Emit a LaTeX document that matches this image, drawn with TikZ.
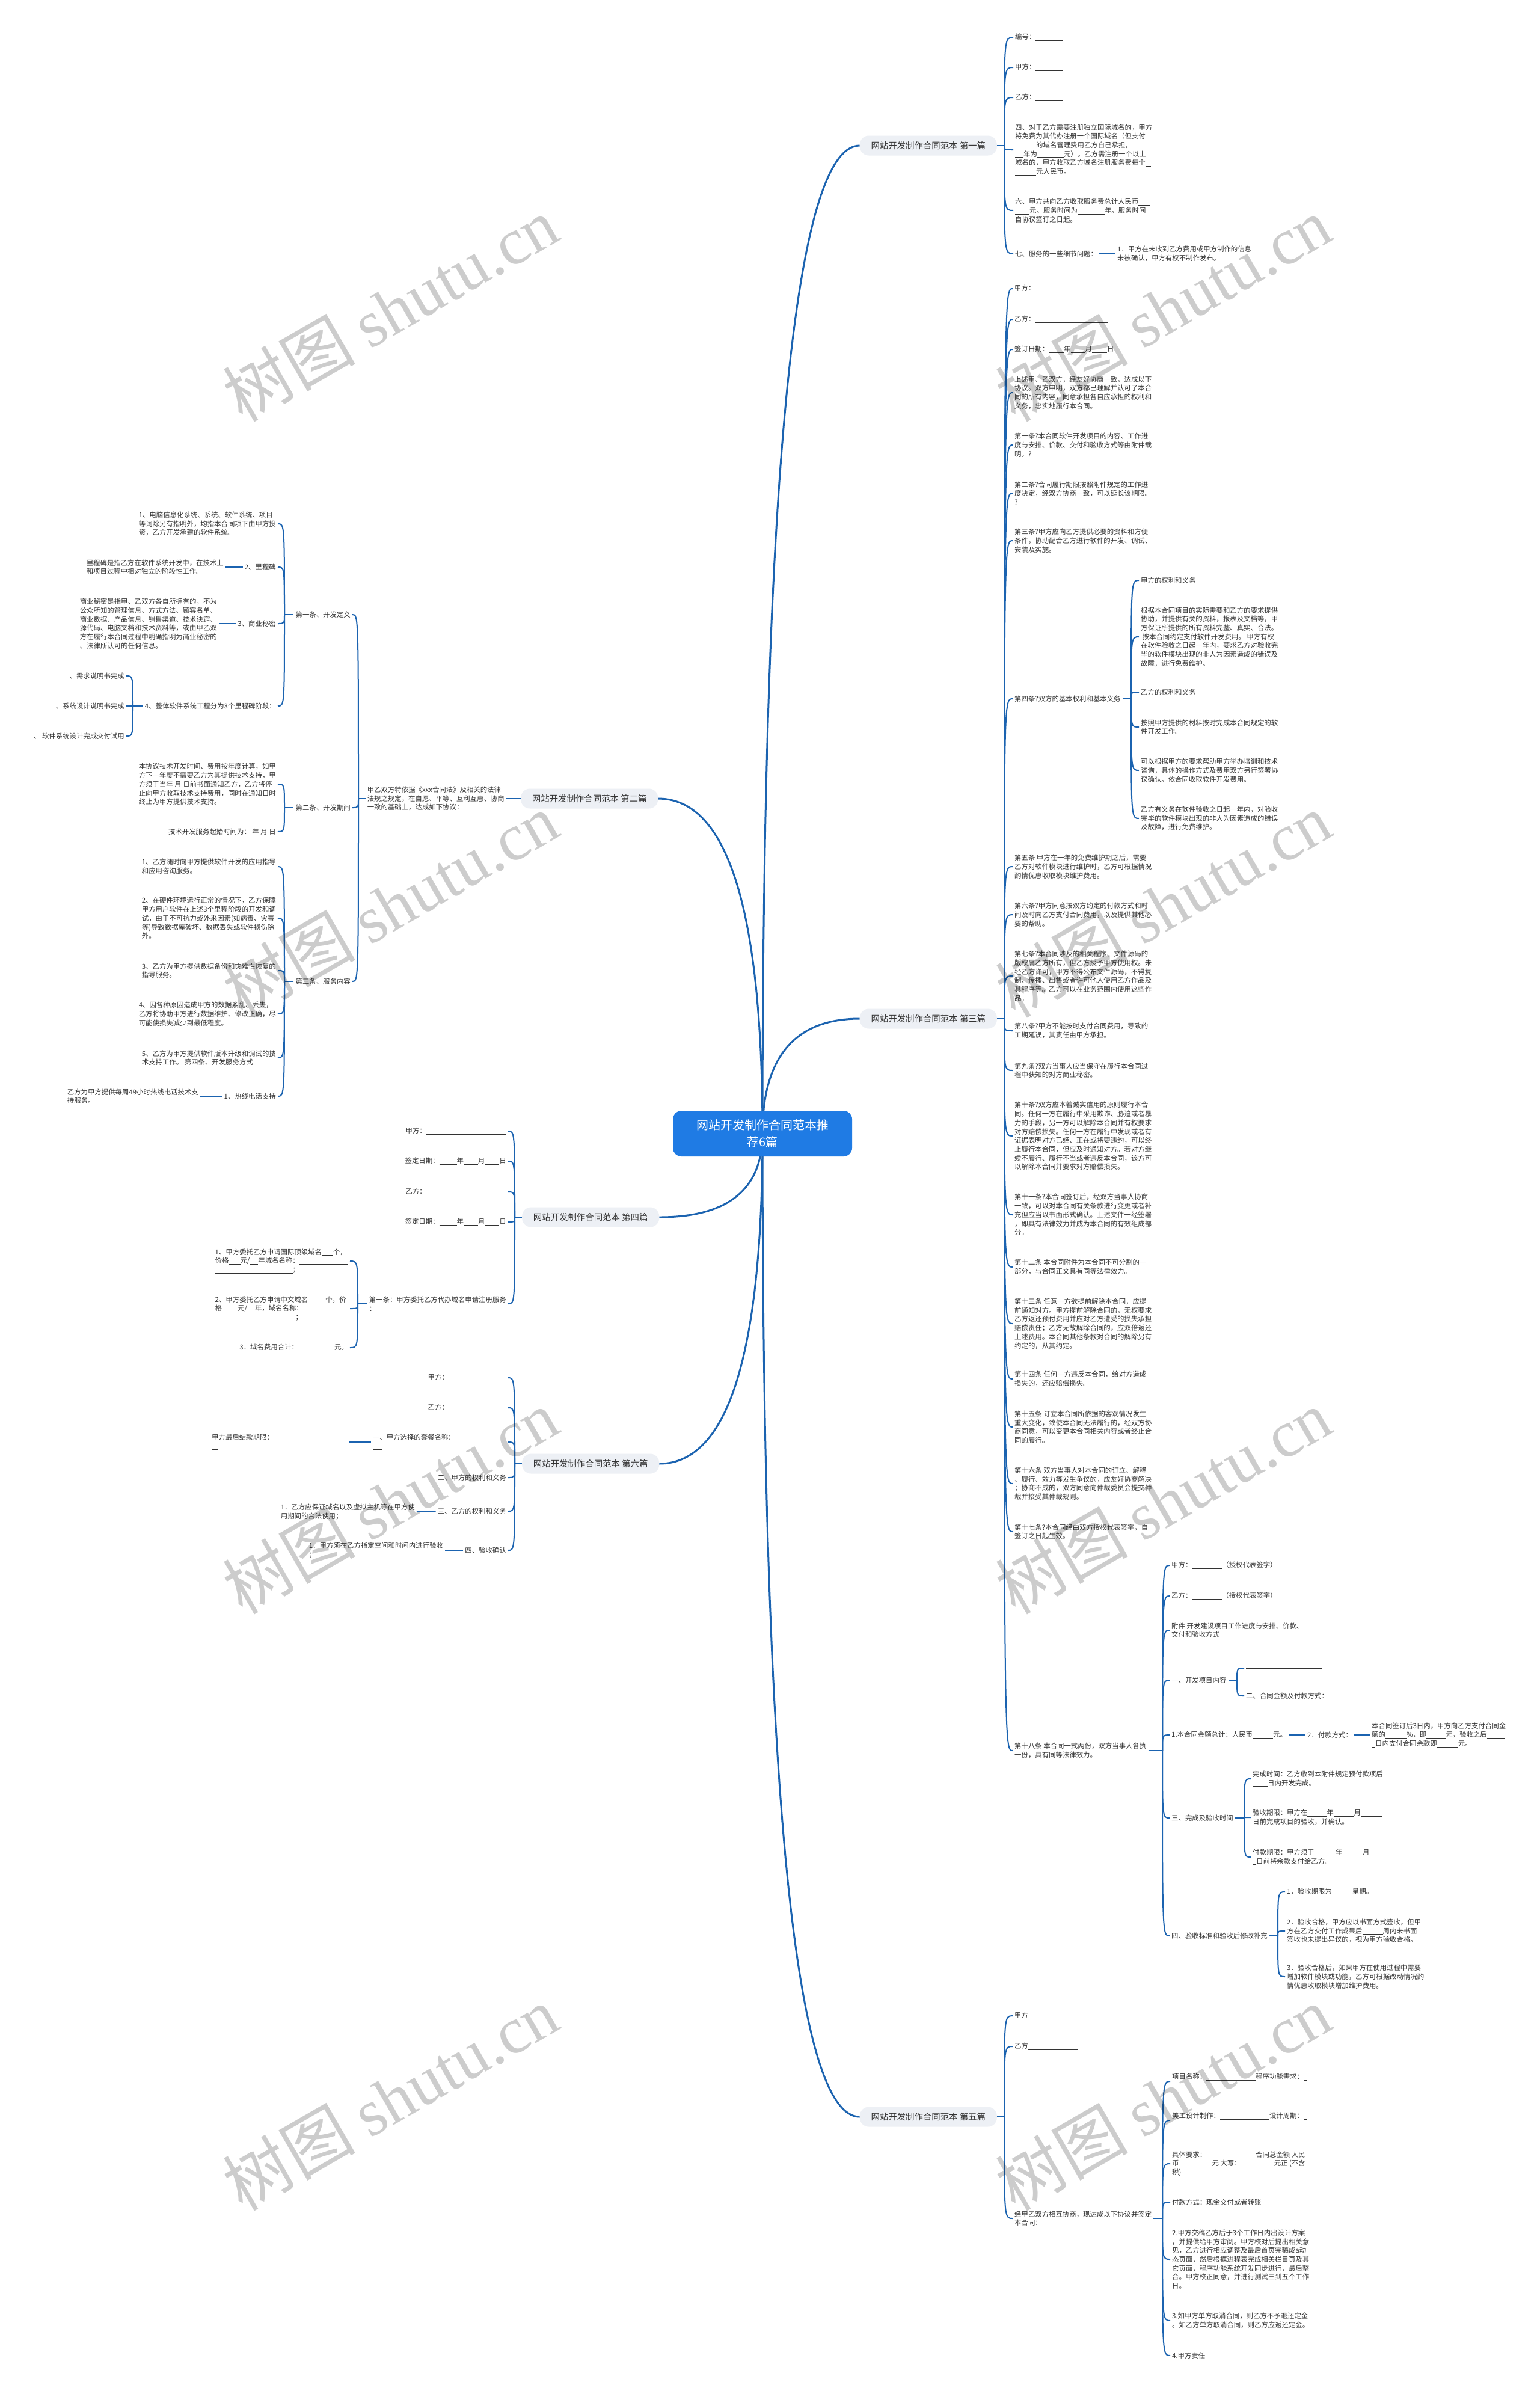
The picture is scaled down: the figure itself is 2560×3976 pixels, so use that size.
\documentclass[tikz,border=0pt]{standalone}
\usepackage{fontspec}
\setmainfont{Noto Sans CJK SC}
\newfontfamily\wmfont{Liberation Serif}
\usetikzlibrary{calc}
\definecolor{lnc}{HTML}{1B63B0}
\definecolor{txt}{HTML}{333333}
\definecolor{lblfill}{HTML}{EDF0F5}
\definecolor{ctrfill}{HTML}{1F7BE4}
\pgfdeclarelayer{bgl}
\pgfsetlayers{bgl,main}
\newcommand{\ubl}[1]{\rule[-2pt]{#1pt}{0.8pt}}
\newcommand{\lnk}[2]{\draw[conn] let \p1=(#1), \p2=(#2) in (\p1) .. controls (\x1,\y2) and (\x1,\y2) .. (\p2);}
\newcommand{\mlnk}[2]{\draw[mainconn] let \p1=(#1), \p2=(#2) in (\p1) .. controls (\x1,{\y1+0.6667*((\y2)-(\y1))}) and ({\x1+0.3333*((\x2)-(\x1))},\y2) .. (\p2);}
\tikzset{
  leaf/.style={font=\fontsize{11.4}{14.7}\selectfont, text=txt, align=left, inner xsep=3pt, inner ysep=1pt},
  lbl/.style={fill=lblfill, rounded corners=15pt, minimum width=228pt, minimum height=33pt, font=\fontsize{14.4}{17}\selectfont, text=txt, inner sep=0pt},
  ctr/.style={fill=ctrfill, rounded corners=14pt, minimum width=298pt, minimum height=76pt, font=\fontsize{20}{28}\selectfont, text=white, align=center, inner sep=0pt},
  conn/.style={draw=lnc, line width=2pt},
  mainconn/.style={draw=lnc, line width=3pt},
  wm/.style={font=\fontsize{110}{110}\selectfont, text=black, opacity=0.2, inner sep=0pt}
}
\begin{document}
\begin{tikzpicture}[x=1pt,y=-1pt]
\begin{pgfonlayer}{bgl}
\fill[white] (0,0) rectangle (2560,3976);
\end{pgfonlayer}
\useasboundingbox (0,0) rectangle (2560,3976);

% center and labels
\node[ctr] (C) at (1268,1885) {网站开发制作合同范本推\\荐6篇};
\node[lbl, anchor=east] (L1) at (1658,242) {网站开发制作合同范本 第一篇};
\node[lbl, anchor=east] (L3) at (1658,1694) {网站开发制作合同范本 第三篇};
\node[lbl, anchor=east] (L5) at (1658,3520) {网站开发制作合同范本 第五篇};
\node[lbl, anchor=west] (L2) at (866,1328) {网站开发制作合同范本 第二篇};
\node[lbl, anchor=west] (L4) at (868,2024) {网站开发制作合同范本 第四篇};
\node[lbl, anchor=west] (L6) at (868,2434) {网站开发制作合同范本 第六篇};

% ---------- branch 1
\coordinate (h1) at (1670,242);
\node[leaf,anchor=west] (a1) at (1685,62) {编号：\ubl{45}};
\node[leaf,anchor=west] (a2) at (1685,112) {甲方：\ubl{45}};
\node[leaf,anchor=west] (a3) at (1685,162) {乙方：\ubl{45}};
\node[leaf,anchor=west] (a4) at (1685,249) {四、对于乙方需要注册独立国际域名的，甲方\\将免费为其代办注册一个国际域名（但支付\ubl{8}\\\ubl{35}的域名管理费用乙方自己承担，\ubl{29}\\\ubl{14}年为\ubl{44}元）。乙方需注册一个以上\\域名的，甲方收取乙方域名注册服务费每个\ubl{9}\\\ubl{35}元人民币。};
\node[leaf,anchor=west] (a5) at (1685,350) {六、甲方共向乙方收取服务费总计人民币\ubl{20}\\\ubl{24}元。服务时间为\ubl{45}年。服务时间\\自协议签订之日起。};
\node[leaf,anchor=west] (a6) at (1685,422) {七、服务的一些细节问题：};
\node[leaf,anchor=west] (a7) at (1855,422) {1．甲方在未收到乙方费用或甲方制作的信息\\未被确认，甲方有权不制作发布。};

% ---------- branch 3
\coordinate (h3) at (1670,1694);
\node[leaf,anchor=west] (b1) at (1684,480) {甲方：\ubl{122}};
\node[leaf,anchor=west] (b2) at (1684,531) {乙方：\ubl{122}};
\node[leaf,anchor=west] (b3) at (1684,581) {签订日期：\ubl{25}年\ubl{24}月\ubl{25}日};
\node[leaf,anchor=west] (b4) at (1684,653) {上述甲、乙双方，经友好协商一致，达成以下\\协议。双方申明，双方都已理解并认可了本合\\同的所有内容，同意承担各自应承担的权利和\\义务，忠实地履行本合同。};
\node[leaf,anchor=west] (b5) at (1684,740) {第一条?本合同软件开发项目的内容、工作进\\度与安排、价款、交付和验收方式等由附件载\\明。?};
\node[leaf,anchor=west] (b6) at (1684,820) {第二条?合同履行期限按照附件规定的工作进\\度决定，经双方协商一致，可以延长该期限。\\?};
\node[leaf,anchor=west] (b7) at (1684,899) {第三条?甲方应向乙方提供必要的资料和方便\\条件，协助配合乙方进行软件的开发、调试、\\安装及实施。};
\node[leaf,anchor=west] (b8) at (1684,1162) {第四条?双方的基本权利和基本义务};
\node[leaf,anchor=west] (b9) at (1684,1441) {第五条 甲方在一年的免费维护期之后，需要\\乙方对软件模块进行维护时，乙方可根据情况\\酌情优惠收取模块维护费用。};
\node[leaf,anchor=west] (b10) at (1684,1521) {第六条?甲方同意按双方约定的付款方式和时\\间及时向乙方支付合同费用，以及提供其他必\\要的帮助。};
\node[leaf,anchor=west] (b11) at (1684,1623) {第七条?本合同涉及的相关程序、文件源码的\\版权属乙方所有，但乙方授予甲方使用权。未\\经乙方许可，甲方不得公布文件源码，不得复\\制、传播、出售或者许可他人使用乙方作品及\\其程序等。乙方可以在业务范围内使用这些作\\品。};
\node[leaf,anchor=west] (b12) at (1684,1714) {第八条?甲方不能按时支付合同费用，导致的\\工期延误，其责任由甲方承担。};
\node[leaf,anchor=west] (b13) at (1684,1780) {第九条?双方当事人应当保守在履行本合同过\\程中获知的对方商业秘密。};
\node[leaf,anchor=west] (b14) at (1684,1889) {第十条?双方应本着诚实信用的原则履行本合\\同。任何一方在履行中采用欺诈、胁迫或者暴\\力的手段，另一方可以解除本合同并有权要求\\对方赔偿损失。任何一方在履行中发现或者有\\证据表明对方已经、正在或将要违约，可以终\\止履行本合同，但应及时通知对方。若对方继\\续不履行、履行不当或者违反本合同，该方可\\以解除本合同并要求对方赔偿损失。};
\node[leaf,anchor=west] (b15) at (1684,2020) {第十一条?本合同签订后，经双方当事人协商\\一致，可以对本合同有关条款进行变更或者补\\充但应当以书面形式确认。上述文件一经签署\\，即具有法律效力并成为本合同的有效组成部\\分。};
\node[leaf,anchor=west] (b16) at (1684,2107) {第十二条 本合同附件为本合同不可分割的一\\部分，与合同正文具有同等法律效力。};
\node[leaf,anchor=west] (b17) at (1684,2201) {第十三条 任意一方欲提前解除本合同，应提\\前通知对方。甲方提前解除合同的，无权要求\\乙方返还预付费用并应对乙方遭受的损失承担\\赔偿责任；乙方无故解除合同的，应双倍返还\\上述费用。本合同其他条款对合同的解除另有\\约定的，从其约定。};
\node[leaf,anchor=west] (b18) at (1684,2293) {第十四条 任何一方违反本合同，给对方造成\\损失的，还应赔偿损失。};
\node[leaf,anchor=west] (b19) at (1684,2373) {第十五条 订立本合同所依据的客观情况发生\\重大变化，致使本合同无法履行的，经双方协\\商同意，可以变更本合同相关内容或者终止合\\同的履行。};
\node[leaf,anchor=west] (b20) at (1684,2467) {第十六条 双方当事人对本合同的订立、解释\\、履行、效力等发生争议的，应友好协商解决\\；协商不成的，双方同意向仲裁委员会提交仲\\裁并接受其仲裁规则。};
\node[leaf,anchor=west] (b21) at (1684,2547) {第十七条?本合同经由双方授权代表签字，自\\签订之日起生效。};
\node[leaf,anchor=west] (b22) at (1684,2911) {第十八条 本合同一式两份，双方当事人各执\\一份，具有同等法律效力。};

% sub of 第四条
\coordinate (h3d) at (1881,1162);
\node[leaf,anchor=west] (d1) at (1894,965) {甲方的权利和义务};
\node[leaf,anchor=west] (d2) at (1894,1059) {根据本合同项目的实际需要和乙方的要求提供\\协助，并提供有关的资料，报表及文档等，甲\\方保证所提供的所有资料完整、真实、合法。\\\ 按本合同约定支付软件开发费用。 甲方有权\\在软件验收之日起一年内，要求乙方对验收完\\毕的软件模块出现的非人为因素造成的错误及\\故障，进行免费维护。};
\node[leaf,anchor=west] (d3) at (1894,1151) {乙方的权利和义务};
\node[leaf,anchor=west] (d4) at (1894,1209) {按照甲方提供的材料按时完成本合同规定的软\\件开发工作。};
\node[leaf,anchor=west] (d5) at (1894,1281) {可以根据甲方的要求帮助甲方举办培训和技术\\咨询，具体的操作方式及费用双方另行签署协\\议确认。依合同收取软件开发费用。};
\node[leaf,anchor=west] (d6) at (1894,1361) {乙方有义务在软件验收之日起一年内，对验收\\完毕的软件模块出现的非人为因素造成的错误\\及故障，进行免费维护。};

% sub of 第十八条
\coordinate (h3e) at (1933,2911);
\node[leaf,anchor=west] (e1) at (1945,2603) {甲方：\ubl{50}（授权代表签字）};
\node[leaf,anchor=west] (e2) at (1945,2654) {乙方：\ubl{50}（授权代表签字）};
\node[leaf,anchor=west] (e3) at (1945,2711) {附件 开发建设项目工作进度与安排、价款、\\交付和验收方式};
\node[leaf,anchor=west] (e4) at (1945,2794) {一、开发项目内容};
\coordinate (h3e4) at (2057,2794);
\node[leaf,anchor=west] (e4a) at (2069,2774) {\ubl{127}};
\node[leaf,anchor=west] (e4b) at (2069,2820) {二、合同金额及付款方式：};
\node[leaf,anchor=west] (e5) at (1945,2885) {1.本合同金额总计：人民币\ubl{34}元。};
\node[leaf,anchor=west] (e5a) at (2171,2885) {2．付款方式：};
\node[leaf,anchor=west] (e5b) at (2278,2885) {本合同签订后3日内，甲方向乙方支付合同金\\额的\ubl{35}\%，即\ubl{32}元，验收之后\ubl{30}\\\ubl{6}日内支付合同余款即\ubl{35}元。};
\node[leaf,anchor=west] (e6) at (1945,3023) {三、完成及验收时间};
\coordinate (h3e6) at (2069,3023);
\node[leaf,anchor=west] (e6a) at (2080,2958) {完成时间：乙方收到本附件规定预付款项后\ubl{9}\\\ubl{25}日内开发完成。};
\node[leaf,anchor=west] (e6b) at (2080,3022) {验收期限：甲方在\ubl{32}年\ubl{34}月\ubl{35}\\日前完成项目的验收，并确认。};
\node[leaf,anchor=west] (e6c) at (2080,3088) {付款期限：甲方须于\ubl{35}年\ubl{34}月\ubl{30}\\\ubl{6}日前将余款支付给乙方。};
\node[leaf,anchor=west] (e7) at (1945,3219) {四、验收标准和验收后修改补充};
\coordinate (h3e7) at (2125,3219);
\node[leaf,anchor=west] (e7a) at (2137,3146) {1．验收期限为\ubl{34}星期。};
\node[leaf,anchor=west] (e7b) at (2137,3211) {2．验收合格，甲方应以书面方式签收，但甲\\方在乙方交付工作成果后\ubl{34}周内未书面\\签收也未提出异议的，视为甲方验收合格。};
\node[leaf,anchor=west] (e7c) at (2137,3287) {3．验收合格后，如果甲方在使用过程中需要\\增加软件模块或功能，乙方可根据改动情况酌\\情优惠收取模块增加维护费用。};

% ---------- branch 5
\coordinate (h5) at (1670,3520);
\node[leaf,anchor=west] (f1) at (1684,3352) {甲方\ubl{82}};
\node[leaf,anchor=west] (f2) at (1684,3403) {乙方\ubl{82}};
\node[leaf,anchor=west] (f3) at (1684,3689) {经甲乙双方相互协商，现达成以下协议并签定\\本合同：};
\coordinate (h5f) at (1933,3689);
\node[leaf,anchor=west] (f3a) at (1946,3461) {项目名称：\ubl{82}程序功能需求：\ubl{5}\\\ubl{76}};
\node[leaf,anchor=west] (f3b) at (1946,3526) {美工设计制作：\ubl{82}设计周期：\ubl{5}\\\ubl{76}};
\node[leaf,anchor=west] (f3c) at (1946,3598) {具体要求：\ubl{82}合同总金额 人民\\币\ubl{55}元 大写：\ubl{55}元正 (不含\\税)};
\node[leaf,anchor=west] (f3d) at (1946,3662) {付款方式：现金交付或者转账};
\node[leaf,anchor=west] (f3e) at (1946,3757) {2.甲方交稿乙方后于3个工作日内出设计方案\\，并提供给甲方审阅。甲方校对后提出相关意\\见，乙方进行相应调整及最后首页完稿成a动\\态页面，然后根据进程表完成相关栏目页及其\\它页面，程序功能系统开发同步进行，最后整\\合。甲方校正同意，并进行测试三到五个工作\\日。};
\node[leaf,anchor=west] (f3f) at (1946,3859) {3.如甲方单方取消合同，则乙方不予退还定金\\。如乙方单方取消合同，则乙方应返还定金。};
\node[leaf,anchor=west] (f3g) at (1946,3917) {4.甲方责任};

% ---------- branch 2
\node[leaf,anchor=east] (g0) at (842,1328) {甲乙双方特依据《xxx合同法》及相关的法律\\法规之规定，在自愿、平等、互利互惠、协商\\一致的基础上，达成如下协议：};
\coordinate (h2) at (596,1328);
\node[leaf,anchor=east] (g1) at (586,1022) {第一条、开发定义};
\coordinate (h21) at (473,1022);
\node[leaf,anchor=east] (g11) at (462,871) {1、电脑信息化系统、系统、软件系统、项目\\等词除另有指明外，均指本合同项下由甲方投\\资，乙方开发承建的软件系统。};
\node[leaf,anchor=east] (g12) at (462,943) {2、里程碑};
\node[leaf,anchor=east] (g12a) at (375,943) {里程碑是指乙方在软件系统开发中，在技术上\\和项目过程中相对独立的阶段性工作。};
\node[leaf,anchor=east] (g13) at (462,1037) {3、商业秘密};
\node[leaf,anchor=east] (g13a) at (364,1037) {商业秘密是指甲、乙双方各自所拥有的，不为\\公众所知的管理信息、方式方法、顾客名单、\\商业数据、产品信息、销售渠道、技术诀窍、\\源代码、电脑文档和技术资料等，或由甲乙双\\方在履行本合同过程中明确指明为商业秘密的\\、法律所认可的任何信息。};
\node[leaf,anchor=east] (g14) at (462,1174) {4、整体软件系统工程分为3个里程碑阶段：};
\coordinate (h214) at (221,1174);
\node[leaf,anchor=east] (g141) at (210,1124) {、需求说明书完成};
\node[leaf,anchor=east] (g142) at (210,1174) {、系统设计说明书完成};
\node[leaf,anchor=east] (g143) at (210,1224) {、 软件系统设计完成交付试用};
\node[leaf,anchor=east] (g2) at (586,1343) {第二条、开发期间};
\coordinate (h22) at (473,1343);
\node[leaf,anchor=east] (g21) at (462,1304) {本协议技术开发时间、费用按年度计算，如甲\\方下一年度不需要乙方为其提供技术支持，甲\\方须于当年 月 日前书面通知乙方，乙方将停\\止向甲方收取技术支持费用，同时在通知日时\\终止为甲方提供技术支持。};
\node[leaf,anchor=east] (g22) at (462,1383) {技术开发服务起始时间为： 年 月 日};
\node[leaf,anchor=east] (g3) at (586,1632) {第三条、服务内容};
\coordinate (h23) at (473,1632);
\node[leaf,anchor=east] (g31) at (462,1441) {1、乙方随时向甲方提供软件开发的应用指导\\和应用咨询服务。};
\node[leaf,anchor=east] (g32) at (462,1527) {2、在硬件环境运行正常的情况下，乙方保障\\甲方用户软件在上述3个里程阶段的开发和调\\试，由于不可抗力或外来因素(如病毒、灾害\\等)导致数据库破坏、数据丢失或软件损伤除\\外。};
\node[leaf,anchor=east] (g33) at (462,1614) {3、乙方为甲方提供数据备份和灾难性恢复的\\指导服务。};
\node[leaf,anchor=east] (g34) at (462,1686) {4、因各种原因造成甲方的数据紊乱、丢失，\\乙方将协助甲方进行数据维护、修改正确，尽\\可能使损失减少到最低程度。};
\node[leaf,anchor=east] (g35) at (462,1759) {5、乙方为甲方提供软件版本升级和调试的技\\术支持工作。 第四条、开发服务方式};
\node[leaf,anchor=east] (g36) at (462,1823) {1、热线电话支持};
\node[leaf,anchor=east] (g36a) at (333,1823) {乙方为甲方提供每周49小时热线电话技术支\\持服务。};

% ---------- branch 4
\coordinate (h4) at (856,2024);
\node[leaf,anchor=east] (k1) at (845,1881) {甲方：\ubl{133}};
\node[leaf,anchor=east] (k2) at (845,1931) {签定日期：\ubl{29}年\ubl{24}月\ubl{24}日};
\node[leaf,anchor=east] (k3) at (845,1982) {乙方：\ubl{133}};
\node[leaf,anchor=east] (k4) at (845,2032) {签定日期：\ubl{29}年\ubl{24}月\ubl{24}日};
\node[leaf,anchor=east] (k5) at (845,2168) {第一条：甲方委托乙方代办域名申请注册服务\\：};
\coordinate (h45) at (595,2168);
\node[leaf,anchor=east] (k51) at (582,2097) {1、甲方委托乙方申请国际顶级域名\ubl{19}个，\\价格\ubl{19}元/\ubl{14}年域名名称：\ubl{81}\\\ubl{129}；};
\node[leaf,anchor=east] (k52) at (582,2176) {2、甲方委托乙方申请中文域名\ubl{29}个，价\\格\ubl{26}元/\ubl{13}年，域名名称：\ubl{75}\\\ubl{134}；};
\node[leaf,anchor=east] (k53) at (582,2241) {3．域名费用合计：\ubl{60}元。};

% ---------- branch 6
\coordinate (h6) at (856,2434);
\node[leaf,anchor=east] (m1) at (845,2291) {甲方：\ubl{96}};
\node[leaf,anchor=east] (m2) at (845,2341) {乙方：\ubl{96}};
\node[leaf,anchor=east] (m3) at (845,2398) {一、甲方选择的套餐名称：\ubl{85}\\\ubl{15}};
\node[leaf,anchor=east] (m3a) at (580,2398) {甲方最后结款期限：\ubl{122}\\\ubl{10}};
\node[leaf,anchor=east] (m4) at (845,2457) {二、甲方的权利和义务};
\node[leaf,anchor=east] (m5) at (845,2513) {三、乙方的权利和义务};
\node[leaf,anchor=east] (m5a) at (693,2514) {1．乙方应保证域名以及虚拟主机等在甲方使\\用期间的合法使用；};
\node[leaf,anchor=east] (m6) at (845,2578) {四、验收确认};
\node[leaf,anchor=east] (m6a) at (740,2578) {1．甲方须在乙方指定空间和时间内进行验收\\；};

% ---------- connectors
\begin{pgfonlayer}{bgl}
\mlnk{C.center}{L1.west}
\mlnk{C.center}{L3.west}
\mlnk{C.center}{L5.west}
\mlnk{C.center}{L2.east}
\mlnk{C.center}{L4.east}
\mlnk{C.center}{L6.east}
% b1
\draw[conn] (L1.east) -- (h1);
\foreach \nd in {a1,a2,a3,a4,a5,a6} {\lnk{h1}{\nd.west}}
\draw[conn] (a6.east) -- (a7.west);
% b3
\draw[conn] (L3.east) -- (h3);
\foreach \nd in {b1,b2,b3,b4,b5,b6,b7,b8,b9,b10,b11,b12,b13,b14,b15,b16,b17,b18,b19,b20,b21,b22} {\lnk{h3}{\nd.west}}
\draw[conn] (b8.east) -- (h3d);
\foreach \nd in {d1,d2,d3,d4,d5,d6} {\lnk{h3d}{\nd.west}}
\draw[conn] (b22.east) -- (h3e);
\foreach \nd in {e1,e2,e3,e4,e5,e6,e7} {\lnk{h3e}{\nd.west}}
\draw[conn] (e4.east) -- (h3e4);
\foreach \nd in {e4a,e4b} {\lnk{h3e4}{\nd.west}}
\draw[conn] (e5.east) -- (e5a.west);
\draw[conn] (e5a.east) -- (e5b.west);
\draw[conn] (e6.east) -- (h3e6);
\foreach \nd in {e6a,e6b,e6c} {\lnk{h3e6}{\nd.west}}
\draw[conn] (e7.east) -- (h3e7);
\foreach \nd in {e7a,e7b,e7c} {\lnk{h3e7}{\nd.west}}
% b5
\draw[conn] (L5.east) -- (h5);
\foreach \nd in {f1,f2,f3} {\lnk{h5}{\nd.west}}
\draw[conn] (f3.east) -- (h5f);
\foreach \nd in {f3a,f3b,f3c,f3d,f3e,f3f,f3g} {\lnk{h5f}{\nd.west}}
% b2
\draw[conn] (L2.west) -- (g0.east);
\draw[conn] (g0.west) -- (h2);
\foreach \nd in {g1,g2,g3} {\lnk{h2}{\nd.east}}
\draw[conn] (g1.west) -- (h21);
\foreach \nd in {g11,g12,g13,g14} {\lnk{h21}{\nd.east}}
\draw[conn] (g12.west) -- (g12a.east);
\draw[conn] (g13.west) -- (g13a.east);
\draw[conn] (g14.west) -- (h214);
\foreach \nd in {g141,g142,g143} {\lnk{h214}{\nd.east}}
\draw[conn] (g2.west) -- (h22);
\foreach \nd in {g21,g22} {\lnk{h22}{\nd.east}}
\draw[conn] (g3.west) -- (h23);
\foreach \nd in {g31,g32,g33,g34,g35,g36} {\lnk{h23}{\nd.east}}
\draw[conn] (g36.west) -- (g36a.east);
% b4
\draw[conn] (L4.west) -- (h4);
\foreach \nd in {k1,k2,k3,k4,k5} {\lnk{h4}{\nd.east}}
\draw[conn] (k5.west) -- (h45);
\foreach \nd in {k51,k52,k53} {\lnk{h45}{\nd.east}}
% b6
\draw[conn] (L6.west) -- (h6);
\foreach \nd in {m1,m2,m3,m4,m5,m6} {\lnk{h6}{\nd.east}}
\draw[conn] (m3.west) -- (m3a.east);
\draw[conn] (m5.west) -- (m5a.east);
\draw[conn] (m6.west) -- (m6a.east);
\end{pgfonlayer}

% ---------- watermarks
\foreach \wx in {649,1934} {
  \foreach \wy in {514,1505,2497,3489} {
    \node[wm, rotate=30] at (\wx,\wy) {树图 {\wmfont shutu.cn}};
  }
}
\end{tikzpicture}
\end{document}
